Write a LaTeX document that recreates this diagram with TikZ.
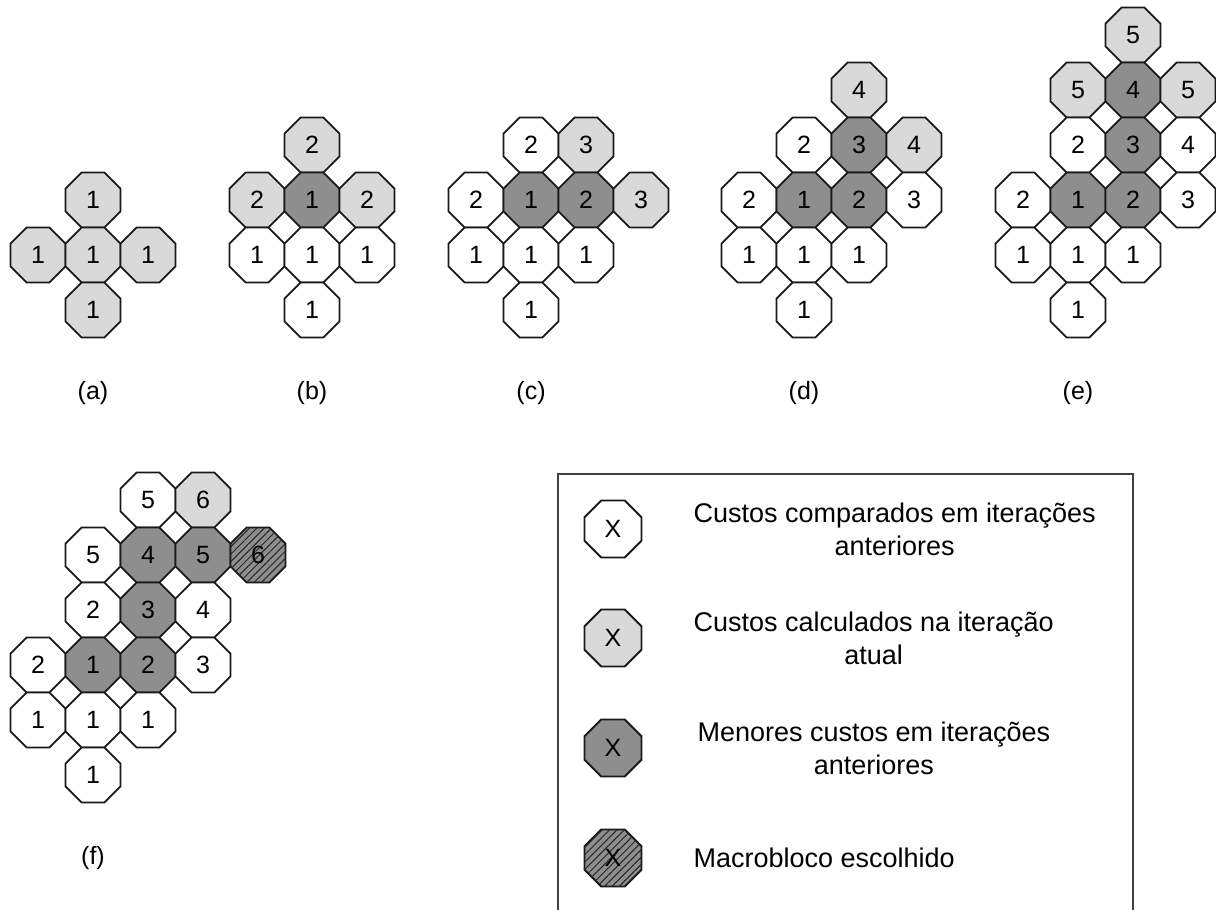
\documentclass[tikz,border=0pt]{standalone}
\usepackage{fontspec}
\setmainfont{Liberation Sans}
\usetikzlibrary{shapes.geometric,patterns.meta,positioning}

\definecolor{cellLight}{HTML}{D9D9D9}
\definecolor{cellDark}{HTML}{8E8E8E}
\definecolor{boxLine}{HTML}{404040}

\tikzset{
    octcell/.style={draw=black!90, line width=1.9pt, regular polygon, regular polygon sides=8,
        minimum size=59.5pt, inner sep=0pt, font=\fontsize{25}{25}\selectfont},
    octold/.style={octcell, fill=white},
    octnew/.style={octcell, fill=cellLight},
    octbest/.style={octcell, fill=cellDark},
    octpick/.style={octcell, fill=cellDark,
        postaction={pattern={Lines[angle=45, distance=5.2pt, line width=1pt]}, pattern color=black!85}},
    legcell/.style={minimum size=61.7pt},
    sublabel/.style={font=\fontsize{25}{25}\selectfont},
    legtext/.style={anchor=west, align=center, font=\fontsize{27}{33}\selectfont}
}

\begin{document}
\begin{tikzpicture}[x=1pt, y=-1pt]
    \useasboundingbox (0,0) rectangle (1216,910);

    % (a)
    \node[octnew] (a1) at (93, 200) {1};
    \node[octnew] (a2) at (38, 255) {1};
    \node[octnew] (a3) at (93, 255) {1};
    \node[octnew] (a4) at (148, 255) {1};
    \node[octnew] (a5) at (93, 310) {1};
    \node[sublabel] (la) at (93, 393) {(a)};

    % (b)
    \node[octnew] (b1) at (312, 145) {2};
    \node[octnew] (b2) at (257, 200) {2};
    \node[octbest] (b3) at (312, 200) {1};
    \node[octnew] (b4) at (367, 200) {2};
    \node[octold] (b5) at (257, 255) {1};
    \node[octold] (b6) at (312, 255) {1};
    \node[octold] (b7) at (367, 255) {1};
    \node[octold] (b8) at (312, 310) {1};
    \node[sublabel] (lb) at (312, 393) {(b)};

    % (c)
    \node[octold] (c1) at (531, 145) {2};
    \node[octnew] (c2) at (586, 145) {3};
    \node[octold] (c3) at (476, 200) {2};
    \node[octbest] (c4) at (531, 200) {1};
    \node[octbest] (c5) at (586, 200) {2};
    \node[octnew] (c6) at (641, 200) {3};
    \node[octold] (c7) at (476, 255) {1};
    \node[octold] (c8) at (531, 255) {1};
    \node[octold] (c9) at (586, 255) {1};
    \node[octold] (c10) at (531, 310) {1};
    \node[sublabel] (lc) at (531, 393) {(c)};

    % (d)
    \node[octnew] (d1) at (859, 90) {4};
    \node[octold] (d2) at (804, 145) {2};
    \node[octbest] (d3) at (859, 145) {3};
    \node[octnew] (d4) at (914, 145) {4};
    \node[octold] (d5) at (749, 200) {2};
    \node[octbest] (d6) at (804, 200) {1};
    \node[octbest] (d7) at (859, 200) {2};
    \node[octold] (d8) at (914, 200) {3};
    \node[octold] (d9) at (749, 255) {1};
    \node[octold] (d10) at (804, 255) {1};
    \node[octold] (d11) at (859, 255) {1};
    \node[octold] (d12) at (804, 310) {1};
    \node[sublabel] (ld) at (804, 393) {(d)};

    % (e)
    \node[octnew] (e1) at (1133, 35) {5};
    \node[octnew] (e2) at (1078, 90) {5};
    \node[octbest] (e3) at (1133, 90) {4};
    \node[octnew] (e4) at (1188, 90) {5};
    \node[octold] (e5) at (1078, 145) {2};
    \node[octbest] (e6) at (1133, 145) {3};
    \node[octold] (e7) at (1188, 145) {4};
    \node[octold] (e8) at (1023, 200) {2};
    \node[octbest] (e9) at (1078, 200) {1};
    \node[octbest] (e10) at (1133, 200) {2};
    \node[octold] (e11) at (1188, 200) {3};
    \node[octold] (e12) at (1023, 255) {1};
    \node[octold] (e13) at (1078, 255) {1};
    \node[octold] (e14) at (1133, 255) {1};
    \node[octold] (e15) at (1078, 310) {1};
    \node[sublabel] (le) at (1078, 393) {(e)};

    % (f)
    \node[octold] (f1) at (148, 500) {5};
    \node[octnew] (f2) at (203, 500) {6};
    \node[octold] (f3) at (93, 555) {5};
    \node[octbest] (f4) at (148, 555) {4};
    \node[octbest] (f5) at (203, 555) {5};
    \node[octpick] (f6) at (258, 555) {6};
    \node[octold] (f7) at (93, 610) {2};
    \node[octbest] (f8) at (148, 610) {3};
    \node[octold] (f9) at (203, 610) {4};
    \node[octold] (f10) at (38, 665) {2};
    \node[octbest] (f11) at (93, 665) {1};
    \node[octbest] (f12) at (148, 665) {2};
    \node[octold] (f13) at (203, 665) {3};
    \node[octold] (f14) at (38, 720) {1};
    \node[octold] (f15) at (93, 720) {1};
    \node[octold] (f16) at (148, 720) {1};
    \node[octold] (f17) at (93, 775) {1};
    \node[sublabel] (lf) at (93, 858) {(f)};

    % legend
    \draw[boxLine, line width=2pt] (558, 912) |- (1133, 474) -- (1133, 912);
    \node[octold, legcell] (k1) at (613, 529) {X};
    \node[octnew, legcell] (k2) at (613, 638) {X};
    \node[octbest, legcell] (k3) at (613, 748) {X};
    \node[octpick, legcell] (k4) at (613, 858) {X};
    \node[legtext] (t1) at (690, 529) {Custos comparados em iterações\\anteriores};
    \node[legtext] (t2) at (690, 638) {Custos calculados na iteração\\atual};
    \node[legtext] (t3) at (694, 748) {Menores custos em iterações\\anteriores};
    \node[legtext] (t4) at (690, 858) {Macrobloco escolhido};
\end{tikzpicture}
\end{document}
